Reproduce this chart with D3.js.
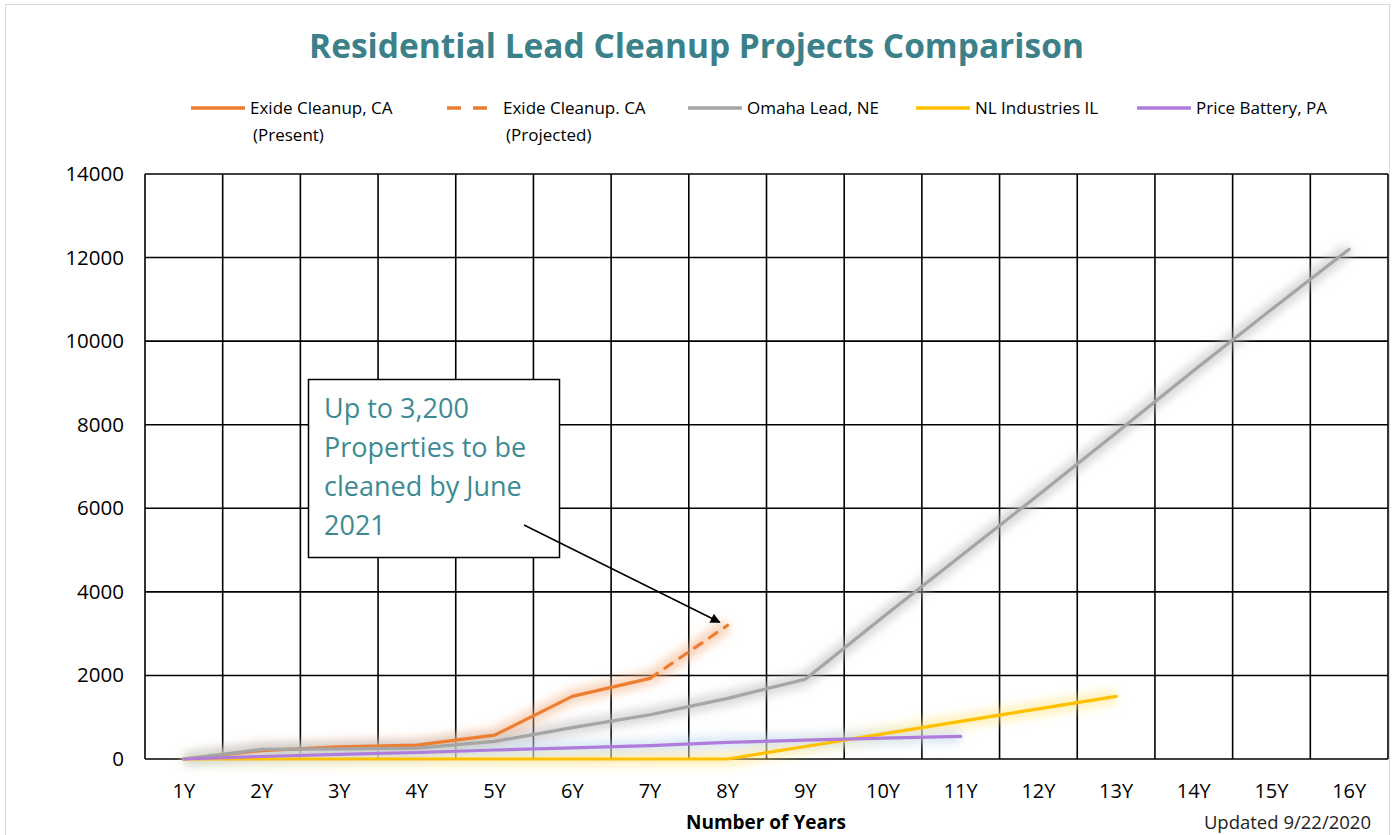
<!DOCTYPE html>
<html>
<head>
<meta charset="utf-8">
<script src="https://cdn.jsdelivr.net/npm/d3@7"></script>
<style>
  body { margin: 0; background: #fff; }
  text { font-family: "Open Sans", "Noto Sans", sans-serif; }
</style>
</head>
<body>
<div id="chart"></div>
<script>
var width = 1393,
    height = 835;

// data
var years = ["1Y","2Y","3Y","4Y","5Y","6Y","7Y","8Y","9Y","10Y","11Y","12Y","13Y","14Y","15Y","16Y"];
var exidePresent   = [0, 200, 290, 330, 570, 1500, 1930];
var exideProjected = [null, null, null, null, null, null, 1930, 3200];
var omaha          = [0, 230, 240, 260, 420, 750, 1060, 1450, 1910, 3400, 4860, 6320, 7800, 9300, 10760, 12200];
var nlIndustries   = [0, 0, 0, 0, 0, 0, 0, 0, 300, 600, 900, 1200, 1500];
var priceBattery   = [0, 60, 110, 155, 215, 265, 320, 400, 450, 500, 540];
var yTicks = [0, 2000, 4000, 6000, 8000, 10000, 12000, 14000];

var seriesNames = ["Exide Cleanup, CA|(Present)", "Exide Cleanup. CA|(Projected)", "Omaha Lead, NE", "NL Industries IL", "Price Battery, PA"];
var seriesValues = [exidePresent, exideProjected, omaha, nlIndustries, priceBattery];
var seriesColors = ["#ed7d31", "#ed7d31", "#a5a5a5", "#ffc000", "#b07cdc"];
var glowColors   = ["#f4b183", "#f4b183", "#b8b8b8", "#ffe680", "#bdd7ee"];

var series = seriesNames.map(function(n, i) {
  return { name: n, values: seriesValues[i], color: seriesColors[i], glow: glowColors[i], dashed: i == 1 };
});

var svg = d3.select("#chart").append("svg")
    .attr("width", width)
    .attr("height", height);

var defs = svg.append("defs");
defs.append("filter").attr("id", "glow")
    .attr("x", "-20%").attr("y", "-50%").attr("width", "140%").attr("height", "200%")
  .append("feGaussianBlur").attr("stdDeviation", 5);

var marker = defs.append("marker")
    .attr("id", "arrow")
    .attr("viewBox", "0 0 10 10")
    .attr("refX", 9).attr("refY", 5)
    .attr("markerWidth", 10).attr("markerHeight", 10)
    .attr("markerUnits", "userSpaceOnUse")
    .attr("orient", "auto");
marker.append("path").attr("d", "M0,0L10,5L0,10Z").attr("fill", "#000");

// chart area border
svg.append("rect")
    .attr("x", 5.5).attr("y", 4.5)
    .attr("width", 1384).attr("height", 850)
    .attr("fill", "#fff")
    .attr("stroke", "#d9d9d9");

var x = d3.scaleBand()
    .domain(years)
    .range([145, 1388]);

var y = d3.scaleLinear()
    .domain([0, 14000])
    .range([759, 174]);

function cx(d) { return x(d) + x.bandwidth() / 2; }

// title
var title = svg.append("text")
    .attr("x", width / 2)
    .attr("y", 58)
    .attr("text-anchor", "middle")
    .attr("fill", "#3c8089")
    .style("font-weight", "bold")
    .style("font-size", "32px")
    .text("Residential Lead Cleanup Projects Comparison");
var tw = title.node().getComputedTextLength();
title.style("font-size", (32 * 775 / tw) + "px");

// grid
var grid = svg.append("g").attr("stroke", "#000").attr("stroke-width", 1.6);
grid.selectAll(".hgrid")
    .data(yTicks)
  .enter().append("line")
    .attr("class", "hgrid")
    .attr("x1", 145).attr("x2", 1388)
    .attr("y1", d => y(d)).attr("y2", d => y(d));
grid.selectAll(".vgrid")
    .data(years.concat(["end"]))
  .enter().append("line")
    .attr("class", "vgrid")
    .attr("x1", (d, i) => i < years.length ? x(d) : x.range()[1])
    .attr("x2", (d, i) => i < years.length ? x(d) : x.range()[1])
    .attr("y1", 174).attr("y2", 759);

// axes labels
svg.append("g").selectAll("text")
    .data(yTicks)
  .enter().append("text")
    .attr("x", 124)
    .attr("y", d => y(d) + 7)
    .attr("text-anchor", "end")
    .style("font-size", "20.5px")
    .attr("fill", "#000")
    .text(d => d);

svg.append("g").selectAll("text")
    .data(years)
  .enter().append("text")
    .attr("x", d => cx(d))
    .attr("y", 798)
    .attr("text-anchor", "middle")
    .style("font-size", "20px")
    .attr("fill", "#000")
    .text(d => d);

svg.append("text")
    .attr("x", 766)
    .attr("y", 829)
    .attr("text-anchor", "middle")
    .style("font-size", "19px")
    .style("font-weight", "bold")
    .text("Number of Years");

svg.append("text")
    .attr("x", 1371)
    .attr("y", 829)
    .attr("text-anchor", "end")
    .style("font-size", "18.5px")
    .attr("fill", "#222")
    .text("Updated 9/22/2020");

// lines
var line = d3.line()
    .defined(d => d.v != null)
    .x(d => cx(d.k))
    .y(d => y(d.v));

function pts(vals) {
  return vals.map(function(v, i) { return { k: years[i], v: v }; });
}

var glowG = svg.append("g").attr("filter", "url(#glow)");
glowG.selectAll("path")
    .data(series)
  .enter().append("path")
    .attr("d", d => line(pts(d.values)))
    .attr("fill", "none")
    .attr("stroke", d => d.glow)
    .attr("stroke-width", 14)
    .attr("stroke-opacity", 0.55)
    .attr("stroke-linejoin", "round");

svg.append("g").selectAll("path")
    .data(series)
  .enter().append("path")
    .attr("d", d => line(pts(d.values)))
    .attr("fill", "none")
    .attr("stroke", d => d.color)
    .attr("stroke-width", 3.2)
    .attr("stroke-linejoin", "round")
    .attr("stroke-linecap", "round")
    .attr("stroke-dasharray", d => d.dashed ? "9,9" : null);

// legend
var legendX = [191, 447, 688, 916, 1137];
var legend = svg.append("g").selectAll("g")
    .data(series)
  .enter().append("g")
    .attr("transform", (d, i) => "translate(" + legendX[i] + ",108)");
legend.append("line")
    .attr("x1", 0).attr("x2", (d, i) => i == 1 ? 42 : 54)
    .attr("y1", 0).attr("y2", 0)
    .attr("stroke", d => d.color)
    .attr("stroke-width", 3.5)
    .attr("stroke-dasharray", d => d.dashed ? "14,12" : null);
legend.each(function(d, i) {
  var parts = d.name.split("|");
  var g = d3.select(this);
  var tx = i == 1 ? 56 : 59;
  g.append("text")
      .attr("x", tx).attr("y", 6)
      .style("font-size", "17px")
      .attr("fill", "#000")
      .text(parts[0]);
  if (parts[1]) {
    g.append("text")
        .attr("x", tx + 3).attr("y", 33)
        .style("font-size", "17px")
        .attr("fill", "#000")
        .text(parts[1]);
  }
});

// annotation
var note = ["Up to 3,200", "Properties to be", "cleaned by June", "2021"];
svg.append("rect")
    .attr("x", 308.5).attr("y", 379.5)
    .attr("width", 251).attr("height", 178)
    .attr("fill", "#fff")
    .attr("stroke", "#000")
    .attr("stroke-width", 1.5);
svg.append("g").selectAll("text")
    .data(note)
  .enter().append("text")
    .attr("x", 324)
    .attr("y", (d, i) => 418 + i * 39)
    .style("font-size", "27px")
    .attr("fill", "#3e8a92")
    .text(d => d);

svg.append("line")
    .attr("x1", 524).attr("y1", 525)
    .attr("x2", cx("8Y") - 8).attr("y2", y(3200) - 3)
    .attr("stroke", "#000")
    .attr("stroke-width", 1.5)
    .attr("marker-end", "url(#arrow)");
</script>
</body>
</html>
